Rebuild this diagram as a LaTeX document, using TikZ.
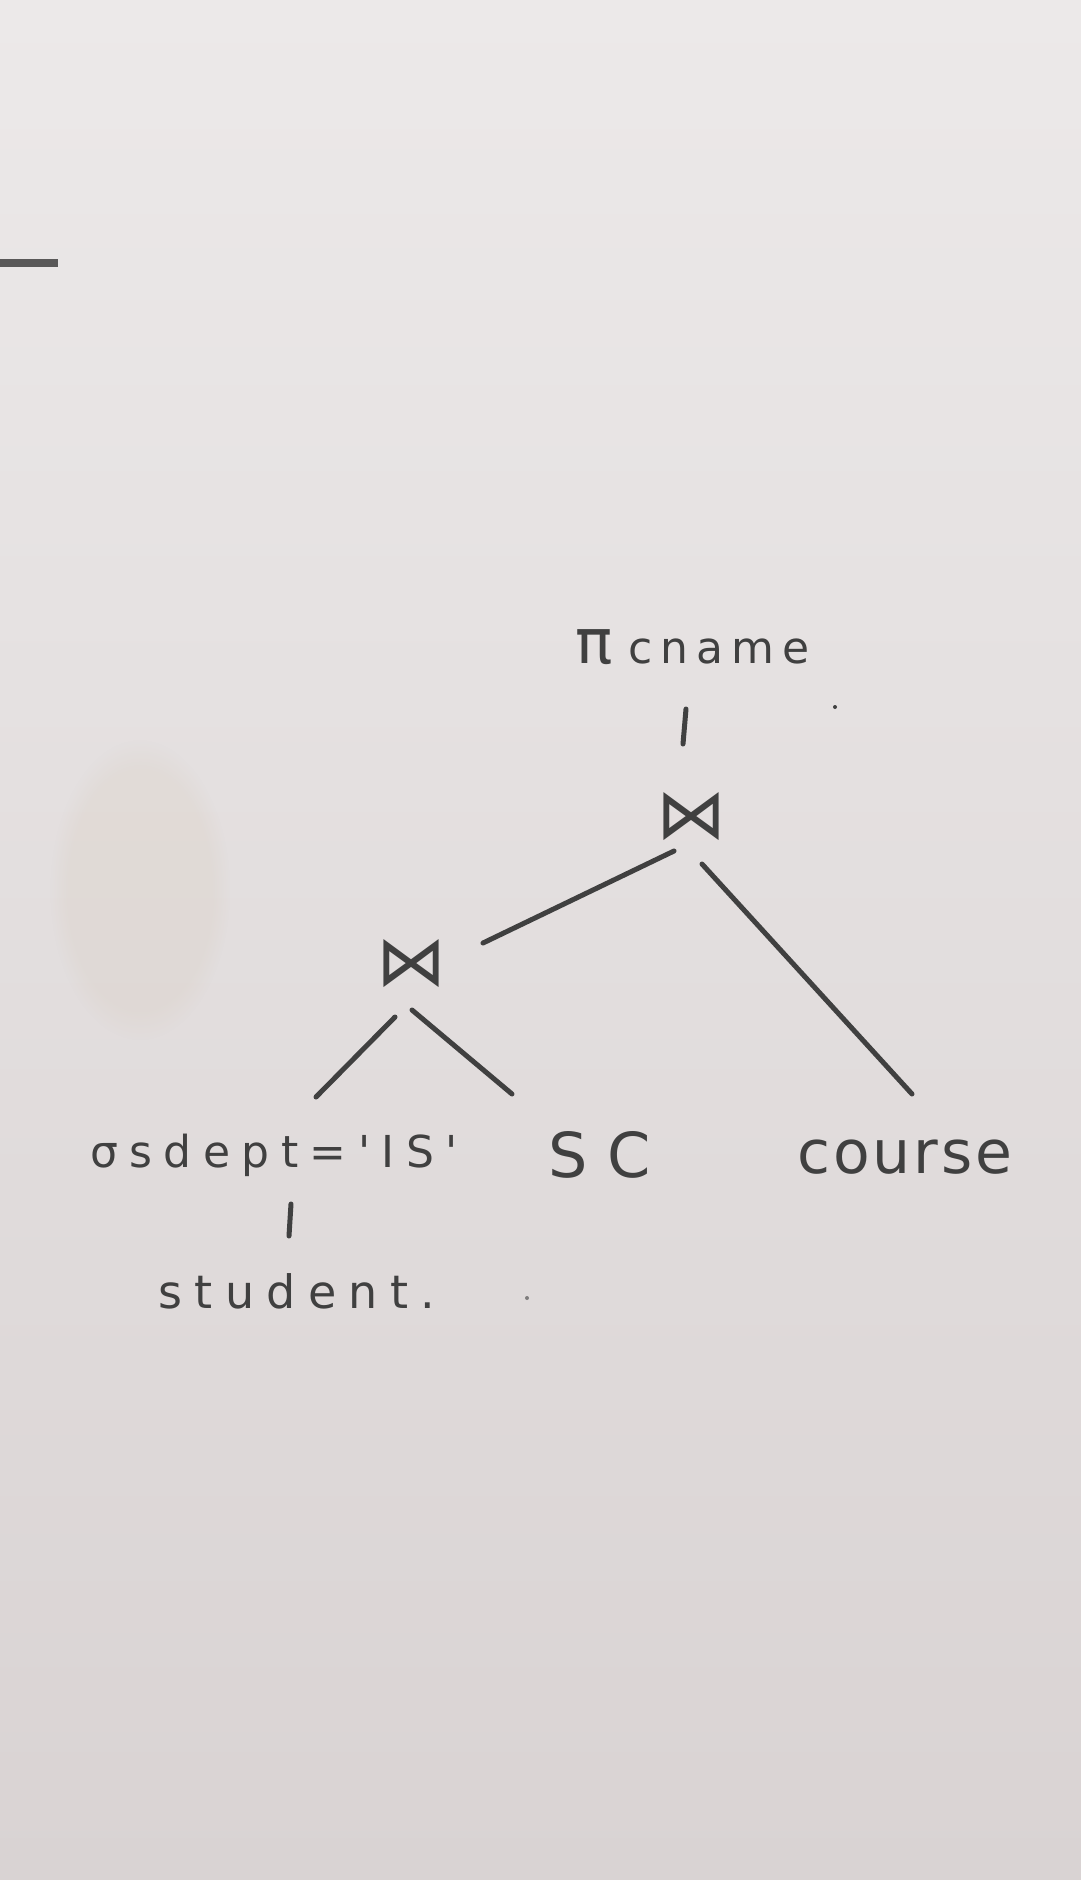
\documentclass[tikz,border=0pt]{standalone}
\usepackage{fontspec}
\setmainfont{DejaVu Sans}
\newfontfamily\hand{DejaVu Sans}
\usetikzlibrary{fadings}
\definecolor{papertop}{HTML}{ECE9E9}
\definecolor{papermid}{HTML}{E0DADA}
\definecolor{paperbot}{HTML}{D9D3D3}
\definecolor{stain}{HTML}{D6C8B6}
\definecolor{ink}{HTML}{404040}
\begin{document}
\begin{tikzpicture}[x=1pt,y=-1pt,
  edge/.style={draw=ink, line width=5pt, line cap=round},
  lbl/.style={text=ink, inner sep=0pt, anchor=base west},
  joinsym/.style={text=ink, inner sep=0pt, font=\hand\fontsize{70}{70}\selectfont}]
% paper
\shade[top color=papertop, middle color=papermid, bottom color=paperbot] (0,0) rectangle (1081,1880);
\useasboundingbox (0,0) rectangle (1081,1880);
\fill[stain, opacity=0.2, path fading=circle with fuzzy edge 20 percent] (140,890) ellipse (90 and 150);
% cut-off stroke at top left
\draw[draw=ink, line width=8pt, opacity=0.85] (0,263) -- (58,263);
% specks
\fill[ink] (835,707) circle (2);
\fill[ink, opacity=0.6] (527,1298) circle (2);
% nodes
\node[lbl, font=\hand\fontsize{44}{44}\selectfont\addfontfeature{LetterSpace=18}] (proj) at (575,663) {{\fontsize{62}{62}\selectfont π}\hspace{16pt}cname};
\node[joinsym] (j1) at (691,817) {⋈};
\node[joinsym] (j2) at (411,964) {⋈};
\node[lbl, font=\hand\fontsize{44}{44}\selectfont\addfontfeature{LetterSpace=26}] (sel) at (90,1167) {σsdept='IS'};
\node[lbl, font=\hand\fontsize{62}{62}\selectfont] (sc) at (548,1177) {S C};
\node[lbl, font=\hand\fontsize{60}{60}\selectfont\addfontfeature{LetterSpace=5}] (course) at (797,1173) {course};
\node[lbl, font=\hand\fontsize{46}{46}\selectfont\addfontfeature{LetterSpace=27}] (stu) at (158,1308) {student.};
% connectors
\draw[edge] ([shift={(111,46)}]proj.base west) -- ([shift={(-8,-73)}]j1.center);
\draw[edge] ([shift={(-17,34)}]j1.center) -- ([shift={(72,-21)}]j2.center);
\draw[edge] ([shift={(11,47)}]j1.center) -- ([shift={(115,-79)}]course.base west);
\draw[edge] ([shift={(-16,53)}]j2.center) -- ([shift={(226,-70)}]sel.base west);
\draw[edge] ([shift={(1,46)}]j2.center) -- ([shift={(-36,-83)}]sc.base west);
\draw[edge] ([shift={(201,37)}]sel.base west) -- ([shift={(131,-72)}]stu.base west);
\end{tikzpicture}
\end{document}
